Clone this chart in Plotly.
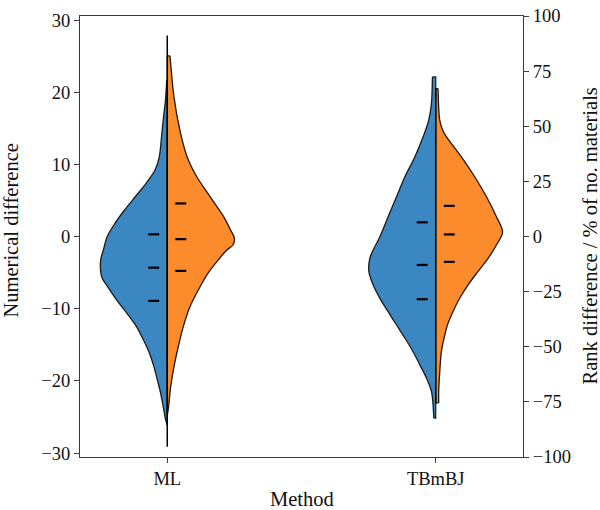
import plotly.graph_objects as go

# ---------------- data ----------------
methods = ["ML", "TBmBJ"]

# ML, numerical difference (left axis): values and half-widths of the density
ml_num_y = [21.7, 18.9, 17.1, 14.8, 11.0, 9.2, 7.4, 5.5, 3.7, 1.9, 0.0, -1.85, -3.0, -4.3,
            -5.7, -7.0, -8.8, -10.6, -12.5, -14.3, -16.1, -18.05, -19.85, -21.65, -23.6, -25.4, -26.1]
ml_num_w = [0.002, 0.0067, 0.0123, 0.019, 0.030, 0.046, 0.079, 0.120, 0.159, 0.194, 0.224, 0.238,
            0.247, 0.249, 0.243, 0.221, 0.188, 0.151, 0.114, 0.089, 0.067, 0.0495, 0.037, 0.025,
            0.015, 0.006, 0.0]
# ML, rank difference (right axis)
ml_rank_y = [81.9, 78.4, 63.3, 48.2, 36.1, 27.1, 18.0, 9.0, 2.9, -0.7, -3.85, -6.1, -10.6, -16.5,
             -22.9, -31.9, -41.0, -50.0, -59.1, -68.2, -77.2, -80.8]
ml_rank_w = [0.010, 0.0127, 0.025, 0.047, 0.074, 0.110, 0.160, 0.210, 0.236, 0.250, 0.2445, 0.222,
             0.190, 0.1526, 0.1217, 0.0845, 0.0595, 0.041, 0.025, 0.0127, 0.005, 0.0007]
# TBmBJ, numerical difference (left axis)
tb_num_y = [22.15, 18.5, 16.15, 13.85, 11.05, 8.3, 5.55, 2.75, 0.0, -1.85, -3.0, -4.85, -6.7, -8.55,
            -10.4, -12.25, -14.05, -15.95, -17.75, -19.6, -21.45, -23.3, -25.15]
tb_num_w = [0.0123, 0.016, 0.026, 0.047, 0.078, 0.115, 0.146, 0.1775, 0.208, 0.233, 0.2456, 0.249,
            0.233, 0.208, 0.1775, 0.146, 0.115, 0.0845, 0.0595, 0.0346, 0.016, 0.010, 0.0074]
# TBmBJ, rank difference (right axis)
tb_rank_y = [67.1, 52.8, 48.2, 45.2, 36.1, 27.1, 18.0, 9.0, 2.0, -3.85, -9.9, -15.9, -22.0, -28.0,
             -34.1, -40.1, -46.1, -52.2, -61.2, -70.3, -75.5]
tb_rank_w = [0.0086, 0.0149, 0.026, 0.040, 0.0956, 0.145, 0.189, 0.226, 0.249, 0.226, 0.195, 0.157,
             0.120, 0.089, 0.064, 0.0435, 0.031, 0.021, 0.015, 0.011, 0.011]

# quartiles (Q1, median, Q3)
ml_num_q = [-8.9, -4.3, 0.33]
ml_rank_q = [-15.6, -1.2, 15.0]
tb_num_q = [-8.67, -3.92, 1.99]
tb_rank_q = [-11.5, 0.93, 13.9]

# extent of the central line (rank axis units)
ml_line = [91.2, -95.3]
tb_line = [67.2, -76.0]

# ---------------- style ----------------
BLUE = "#3a87c1"
ORANGE = "#fc8b2b"
EDGE = "#1a1a1a"
FONT = "Liberation Serif"
AX = "#3a3a3a"

fig = go.Figure()


def half_violin(center, ys, ws, side, color, yaxis):
    sgn = -1 if side == "left" else 1
    ex = [center + sgn * w for w in ws]
    # centre reference line (invisible), then edge filled horizontally to it
    fig.add_trace(go.Scatter(x=[center] * len(ys), y=list(ys), mode="lines",
                             line=dict(width=0, color=color), yaxis=yaxis,
                             hoverinfo="skip", showlegend=False))
    fig.add_trace(go.Scatter(x=ex, y=list(ys), mode="lines", fill="tonextx", fillcolor=color,
                             line=dict(color=EDGE, width=1.3, shape="spline", smoothing=0.9),
                             yaxis=yaxis, hoverinfo="skip", showlegend=False))
    # flat caps at both ends and the straight inner edge
    fig.add_trace(go.Scatter(x=[ex[0], center, center, ex[-1]],
                             y=[ys[0], ys[0], ys[-1], ys[-1]], mode="lines",
                             line=dict(color=EDGE, width=1.2), yaxis=yaxis,
                             hoverinfo="skip", showlegend=False))


def quart(center, qs, side, yaxis):
    sgn = -1 if side == "left" else 1
    xs, yy = [], []
    for q in qs:
        xs += [center + sgn * 0.030, center + sgn * 0.0707, None]
        yy += [q, q, None]
    fig.add_trace(go.Scatter(x=xs, y=yy, mode="lines", line=dict(color="black", width=2.2),
                             yaxis=yaxis, hoverinfo="skip", showlegend=False))


centers = list(range(len(methods)))
half_violin(centers[0], ml_num_y, ml_num_w, "left", BLUE, "y")
half_violin(centers[1], tb_num_y, tb_num_w, "left", BLUE, "y")
quart(centers[0], ml_num_q, "left", "y")
quart(centers[1], tb_num_q, "left", "y")

half_violin(centers[0], ml_rank_y, ml_rank_w, "right", ORANGE, "y2")
half_violin(centers[1], tb_rank_y, tb_rank_w, "right", ORANGE, "y2")

for c, ln in zip(centers, [ml_line, tb_line]):
    fig.add_trace(go.Scatter(x=[c, c], y=ln, mode="lines", line=dict(color="black", width=1.5),
                             yaxis="y2", hoverinfo="skip", showlegend=False))

quart(centers[0], ml_rank_q, "right", "y2")
quart(centers[1], tb_rank_q, "right", "y2")

axis_common = dict(showline=True, linecolor=AX, linewidth=1.3, ticks="outside", ticklen=5,
                   tickwidth=1.2, tickcolor=AX, showgrid=False, zeroline=False,
                   tickfont=dict(family=FONT, size=18.5, color="#111"))

fig.update_layout(
    width=600, height=510,
    margin=dict(l=80, r=77, t=16, b=53, autoexpand=False),
    paper_bgcolor="white", plot_bgcolor="white",
    xaxis=dict(range=[-0.325, 1.325], tickvals=centers, ticktext=methods, mirror=True,
               **axis_common),
    yaxis=dict(range=[-30.55, 30.6], tickvals=[-30, -20, -10, 0, 10, 20, 30], **axis_common),
    yaxis2=dict(range=[-100, 100], tickvals=[-100, -75, -50, -25, 0, 25, 50, 75, 100],
                overlaying="y", side="right", anchor="x", **axis_common),
    annotations=[
        dict(text="Method", xref="paper", yref="paper", x=0.5, y=-0.0, yshift=-42,
             xanchor="center", yanchor="middle", showarrow=False,
             font=dict(family=FONT, size=20.5, color="#111")),
        dict(text="Numerical difference", xref="paper", yref="paper", x=0, xshift=-70,
             y=0.5, yshift=6, textangle=-90, xanchor="center", yanchor="middle",
             showarrow=False, font=dict(family=FONT, size=20.5, color="#111")),
        dict(text="Rank difference / % of no. materials", xref="paper", yref="paper", x=1,
             xshift=66, y=0.5, textangle=-90, xanchor="center", yanchor="middle",
             showarrow=False, font=dict(family=FONT, size=20.5, color="#111")),
    ],
)

fig.write_html("out.html")
